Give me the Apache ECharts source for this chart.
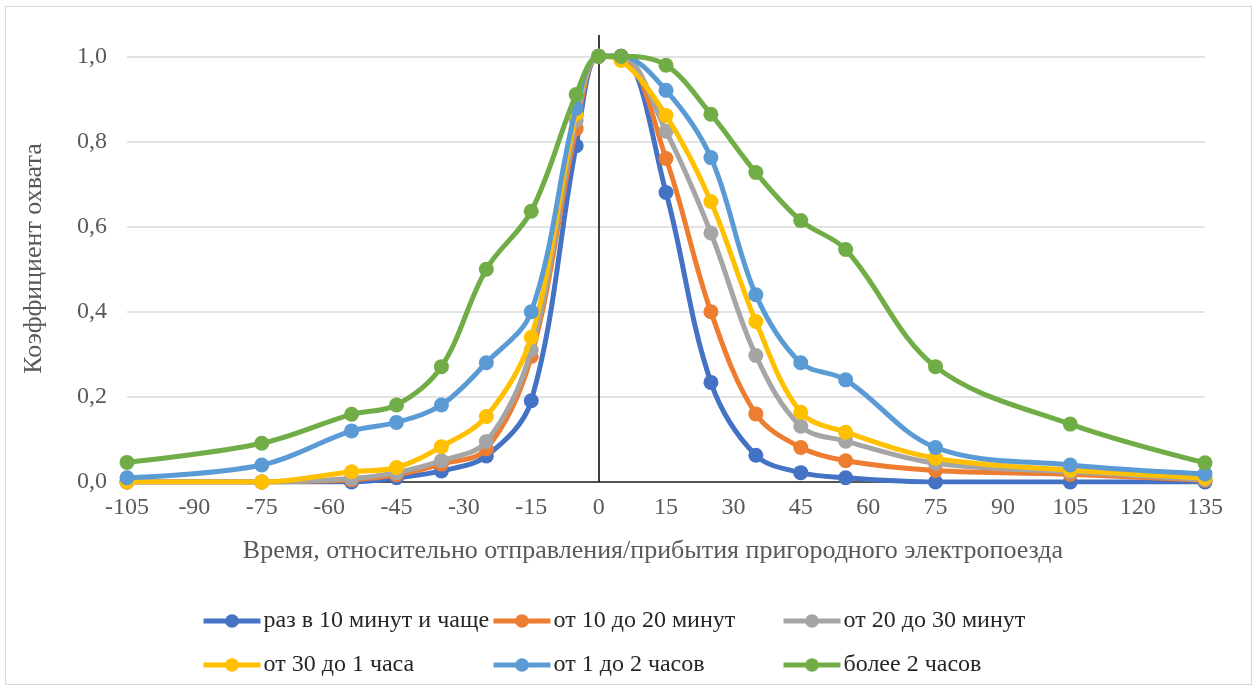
<!DOCTYPE html>
<html>
<head>
<meta charset="utf-8">
<script src="https://cdn.jsdelivr.net/npm/echarts@6/dist/echarts.min.js"></script>
<style>
  html, body { margin: 0; padding: 0; background: #fff; }
  #frame { position: absolute; left: 5px; top: 6px; width: 1247px; height: 679px; border: 1px solid #d9d9d9; box-sizing: border-box; }
  #chart { position: absolute; left: 0; top: 0; width: 1259px; height: 689px; }
</style>
</head>
<body>
<div id="frame"></div>
<div id="chart"></div>
<script>
const xValues = [-105, -75, -55, -45, -35, -25, -15, -5, 0, 5, 15, 25, 35, 45, 55, 75, 105, 135];

const seriesNames = ['раз в 10 минут и чаще', 'от 10 до 20 минут', 'от 20 до 30 минут', 'от 30 до 1 часа', 'от 1 до 2 часов', 'более 2 часов'];
const seriesColors = ['#4472C4', '#ED7D31', '#A5A5A5', '#FFC000', '#5B9BD5', '#70AD47'];

const every10 = [0.0, 0.0, 0.0, 0.01, 0.026, 0.061, 0.191, 0.79, 1.0, 1.0, 0.68, 0.234, 0.063, 0.022, 0.01, 0.0, 0.0, 0.0];
const from10to20 = [0.0, 0.0, 0.005, 0.017, 0.042, 0.078, 0.295, 0.83, 1.0, 1.0, 0.76, 0.40, 0.16, 0.081, 0.05, 0.027, 0.018, 0.004];
const from20to30 = [0.0, 0.0, 0.008, 0.022, 0.05, 0.095, 0.31, 0.85, 1.0, 1.0, 0.824, 0.585, 0.297, 0.131, 0.096, 0.044, 0.024, 0.006];
const from30to60 = [0.0, 0.0, 0.024, 0.034, 0.083, 0.154, 0.34, 0.865, 1.0, 0.99, 0.861, 0.659, 0.377, 0.164, 0.117, 0.056, 0.028, 0.009];
const from1to2h = [0.01, 0.04, 0.12, 0.14, 0.181, 0.28, 0.40, 0.878, 1.0, 1.0, 0.92, 0.762, 0.44, 0.28, 0.24, 0.081, 0.04, 0.019];
const over2h = [0.046, 0.091, 0.159, 0.181, 0.271, 0.50, 0.636, 0.91, 1.0, 1.0, 0.979, 0.864, 0.727, 0.614, 0.546, 0.271, 0.136, 0.045];

const seriesValues = [every10, from10to20, from20to30, from30to60, from1to2h, over2h];

const xTitle = 'Время, относительно отправления/прибытия пригородного электропоезда';
const yTitle = 'Коэффициент охвата';

const FONT = '"Liberation Serif", "Times New Roman", serif';
const TXT = '#595959';

const chart = echarts.init(document.getElementById('chart'), null, { renderer: 'canvas' });

const series = seriesValues.map((vals, i) => ({
  name: seriesNames[i],
  type: 'line',
  smooth: 0.35,
  data: xValues.map((x, j) => [x, vals[j]]),
  symbol: 'circle',
  symbolSize: 15,
  showSymbol: true,
  lineStyle: { width: 5, color: seriesColors[i] },
  itemStyle: { color: seriesColors[i] },
  z: 3 + i,
  animation: false
}));

// vertical zero line
series.push({
  name: '_zero',
  type: 'line',
  data: [],
  silent: true,
  z: 2,
  markLine: {
    silent: true,
    symbol: ['none', 'none'],
    label: { show: false },
    lineStyle: { color: '#000', width: 1.5, type: 'solid' },
    data: [{ xAxis: 0 }],
    animation: false
  }
});

function legendFor(idx, left) {
  return {
    show: true,
    orient: 'vertical',
    left: left,
    top: 604,
    itemWidth: 57,
    itemHeight: 17,
    itemGap: 20,
    data: idx.map(i => seriesNames[i]),
    lineStyle: { width: 5 },
    textStyle: { fontFamily: FONT, fontSize: 24, color: '#262626', padding: [0, 0, 0, -2] },
    selectedMode: false
  };
}

chart.setOption({
  animation: false,
  backgroundColor: 'transparent',
  color: seriesColors,
  grid: { left: 127, right: 54, top: 35, bottom: 207, containLabel: false },
  legend: [legendFor([0, 3], 196), legendFor([1, 4], 486), legendFor([2, 5], 776)],
  xAxis: {
    type: 'value',
    min: -105,
    max: 135,
    interval: 15,
    name: xTitle,
    nameLocation: 'middle',
    nameGap: 56,
    nameTextStyle: { fontFamily: FONT, fontSize: 26, color: TXT, padding: [0, 26, 0, 0] },
    axisLine: { show: true, onZero: false, lineStyle: { color: '#262626', width: 1.5 } },
    axisTick: { show: false },
    splitLine: { show: false },
    axisLabel: { fontFamily: FONT, fontSize: 24, color: TXT, margin: 14 }
  },
  yAxis: {
    type: 'value',
    min: 0,
    max: 1.05,
    interval: 0.2,
    name: yTitle,
    nameLocation: 'middle',
    nameGap: 80,
    nameTextStyle: { fontFamily: FONT, fontSize: 26, color: TXT },
    axisLine: { show: false },
    axisTick: { show: false },
    splitLine: { show: true, showMaxLine: false, lineStyle: { color: '#d9d9d9', width: 1.5 } },
    axisLabel: {
      fontFamily: FONT, fontSize: 24, color: TXT, margin: 20, showMaxLabel: false,
      formatter: v => (Math.abs(v / 0.2 - Math.round(v / 0.2)) < 1e-6) ? v.toFixed(1).replace('.', ',') : ''
    }
  },
  series: series
});
</script>
</body>
</html>
